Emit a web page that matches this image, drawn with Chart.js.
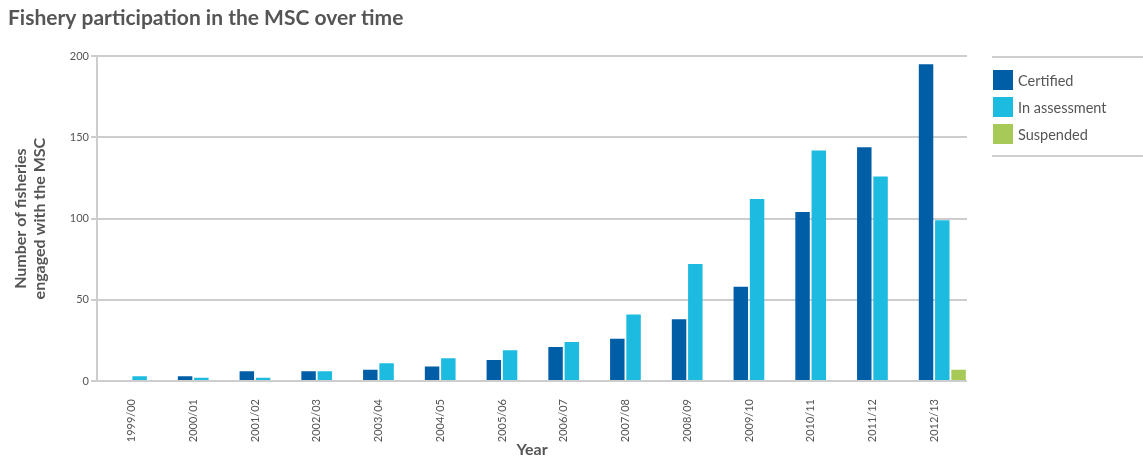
<!DOCTYPE html>
<html>
<head>
<meta charset="utf-8">
<script src="https://cdn.jsdelivr.net/npm/chart.js@4.4.1/dist/chart.umd.min.js"></script>
<style>
    body { margin: 0; background: #fff; font-family: Lato, sans-serif; }
    #wrap { position: relative; width: 1143px; height: 459px; }
    #legend {
        position: absolute; left: 992px; top: 56px; width: 151px;
        border-top: 2px solid #cfcfcf; border-bottom: 2px solid #cfcfcf;
        padding: 12px 0 11px 1px; box-sizing: border-box;
    }
    .legend-item { display: flex; align-items: center; height: 20px; margin-bottom: 7px; color: #555; font-size: 14.5px; }
    .legend-item:last-child { margin-bottom: 0; }
    .legend-box { width: 20px; height: 20px; margin-right: 5px; }
</style>
</head>
<body>
<div id="wrap">
    <canvas id="mscChart" width="1143" height="459"></canvas>
    <div id="legend"></div>
</div>
<script>
// --- DATA ---
const years = ['1999/00', '2000/01', '2001/02', '2002/03', '2003/04', '2004/05', '2005/06',
               '2006/07', '2007/08', '2008/09', '2009/10', '2010/11', '2011/12', '2012/13'];
const certified    = [0, 3, 6, 6, 7, 9, 13, 21, 26, 38, 58, 104, 144, 195];
const inAssessment = [3, 2, 2, 6, 11, 14, 19, 24, 41, 72, 112, 142, 126, 99];
const suspended    = [0, 0, 0, 0, 0, 0, 0, 0, 0, 0, 0, 0, 0, 7];
const yTicks = [0, 50, 100, 150, 200];

const COLORS = {
    certified: '#005ea6',
    assessment: '#1ebbe0',
    suspended: '#a6c957',
    grid: '#cdcdcd',
    text: '#555555'
};

// bars go on a numeric x axis so the group position can be tuned
function toPoints(values) {
    return values.map((v, i) => ({ x: i, y: v }));
}

const series = [
    { label: 'Certified', data: certified, color: COLORS.certified },
    { label: 'In assessment', data: inAssessment, color: COLORS.assessment },
    { label: 'Suspended', data: suspended, color: COLORS.suspended }
];

const ctx = document.getElementById('mscChart').getContext('2d');

const mscChart = new Chart(ctx, {
    type: 'bar',
    data: {
        datasets: series.map(s => ({
            label: s.label,
            data: toPoints(s.data),
            backgroundColor: s.color,
            categoryPercentage: 0.79,
            barPercentage: 0.89
        }))
    },
    options: {
        responsive: false,
        animation: false,
        layout: { padding: { left: 8, right: 176, top: 0, bottom: 0 } },
        plugins: {
            legend: { display: false },
            tooltip: { enabled: false },
            title: {
                display: true,
                text: 'Fishery participation in the MSC over time',
                align: 'start',
                color: COLORS.text,
                font: { family: 'Lato', size: 21, weight: 'bold' },
                padding: { top: 6, bottom: 25 }
            }
        },
        scales: {
            x: {
                type: 'linear',
                offset: false,
                min: -0.69,
                max: 13.4,
                grid: { display: false },
                border: { display: false },
                afterBuildTicks: (axis) => {
                    axis.ticks = years.map((_, i) => ({ value: i }));
                },
                afterFit: (axis) => { axis.height = 78; },
                ticks: {
                    autoSkip: false,
                    minRotation: 90,
                    maxRotation: 90,
                    labelOffset: -8,
                    padding: 10,
                    color: COLORS.text,
                    font: { family: 'Lato', size: 11 },
                    callback: (value) => years[value]
                },
                title: {
                    display: true,
                    text: 'Year',
                    color: COLORS.text,
                    font: { family: 'Lato', size: 16, weight: 'bold' },
                    padding: { top: 0, bottom: 0 }
                }
            },
            y: {
                min: 0,
                max: 200,
                afterBuildTicks: (axis) => {
                    axis.ticks = yTicks.map(v => ({ value: v }));
                },
                afterFit: (axis) => { axis.width = 89; },
                grid: { color: COLORS.grid, lineWidth: 2, tickLength: 6 },
                border: { display: true, color: COLORS.grid, width: 2 },
                ticks: {
                    padding: 2,
                    color: COLORS.text,
                    font: { family: 'Lato', size: 11 }
                },
                title: {
                    display: true,
                    text: ['Number of fisheries', 'engaged with the MSC'],
                    color: COLORS.text,
                    font: { family: 'Lato', size: 16, weight: 'bold', lineHeight: 1.2 },
                    padding: { top: 3, bottom: 0 }
                }
            }
        }
    }
});

// --- HTML LEGEND ---
const legendEl = document.getElementById('legend');
series.forEach(s => {
    const item = document.createElement('div');
    item.className = 'legend-item';
    item.innerHTML = `<span class="legend-box" style="background:${s.color}"></span>${s.label}`;
    legendEl.appendChild(item);
});
</script>
</body>
</html>
